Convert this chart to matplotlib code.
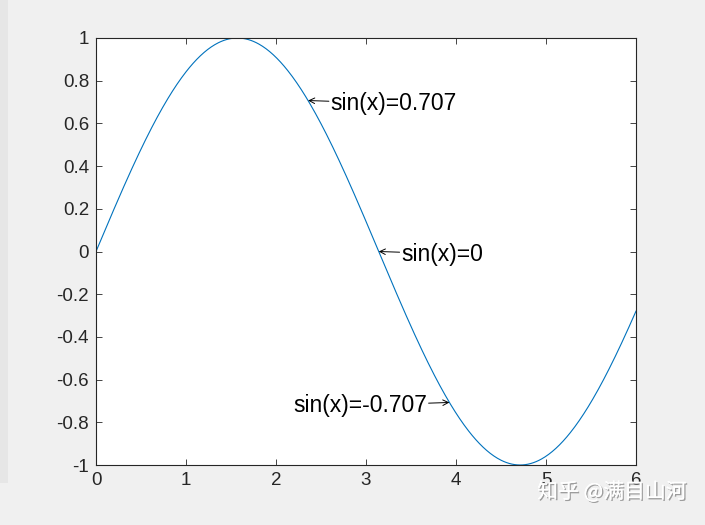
import numpy as np
import matplotlib
matplotlib.use('Agg')
import matplotlib.pyplot as plt
import matplotlib.patheffects as pe

plt.rcParams['font.family'] = ['Liberation Sans', 'DejaVu Sans']
plt.rcParams['axes.unicode_minus'] = False

# curve: y = sin(x) on 0..6
x = np.arange(0, 6.0001, 0.01)
y = np.sin(x)

x_ticks = [0, 1, 2, 3, 4, 5, 6]
y_ticks = [-1, -0.8, -0.6, -0.4, -0.2, 0, 0.2, 0.4, 0.6, 0.8, 1]

# annotation points: x, y, label, side of the text
notes = [(3 * np.pi / 4, np.sin(3 * np.pi / 4), 'sin(x)=0.707', 'left'),
         (np.pi, np.sin(np.pi), 'sin(x)=0', 'left'),
         (5 * np.pi / 4, np.sin(5 * np.pi / 4), 'sin(x)=-0.707', 'right')]

fig = plt.figure(figsize=(7.05, 5.25), dpi=100, facecolor='#f0f0f0')
# leftover window strip on the far left
fig.patches.append(plt.Rectangle((0, 0.08), 0.012, 0.92, transform=fig.transFigure,
                                 facecolor='#e6e6e6', edgecolor='none'))

ax = fig.add_axes([96 / 705, 60 / 525, 540 / 705, 427 / 525])
ax.plot(x, y, color='#0072BD', linewidth=0.8)

ax.set_xlim(0, 6)
ax.set_ylim(-1, 1)
ax.set_xticks(x_ticks)
ax.set_yticks(y_ticks)
ax.set_xticklabels(['%g' % t for t in x_ticks])
ax.set_yticklabels(['%g' % t for t in y_ticks])
ax.tick_params(direction='in', length=4, width=0.6, top=True, right=True,
               labelsize=13.5, colors='#262626', pad=5)
for s in ax.spines.values():
    s.set_linewidth(0.8)
    s.set_color('#262626')

arr = dict(arrowstyle='->, head_length=0.4, head_width=0.2', lw=0.7, color='black',
           shrinkA=0, shrinkB=0)
L = 15  # arrow length in points
for nx, ny, txt, side in notes:
    d = L if side == 'left' else -L
    ax.annotate('', xy=(nx, ny), xytext=(d, -0.5), textcoords='offset points', arrowprops=arr)
    ax.annotate(txt, xy=(nx, ny), xytext=(d + (1 if d > 0 else -1), -2), textcoords='offset points',
                ha=side, va='center', fontsize=16.5)

fig.text(612 / 705, 1 - 492 / 525, '知乎 @满目山河', ha='center', va='center',
         fontsize=15, color='white', family=['Noto Sans CJK SC', 'DejaVu Sans'],
         path_effects=[pe.withSimplePatchShadow(offset=(1, -1), shadow_rgbFace='#888888', alpha=0.8),
                       pe.Normal()])

plt.savefig('out.png', dpi=100, facecolor=fig.get_facecolor())
